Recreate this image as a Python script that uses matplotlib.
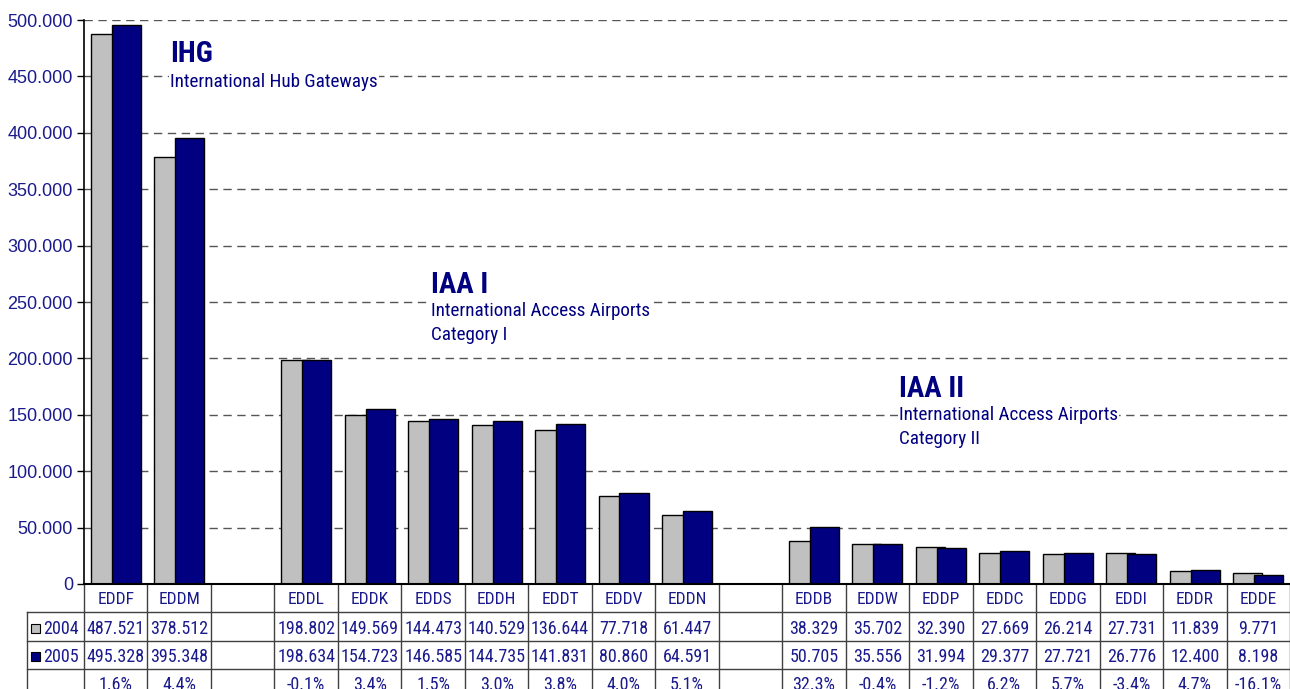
import matplotlib
matplotlib.use('Agg')
import matplotlib.pyplot as plt
from matplotlib.transforms import blended_transform_factory
from matplotlib import font_manager
from matplotlib.font_manager import FontProperties

# Airports (empty strings are the gaps between the groups)
airports = ['EDDF', 'EDDM', '',
            'EDDL', 'EDDK', 'EDDS', 'EDDH', 'EDDT', 'EDDV', 'EDDN', '',
            'EDDB', 'EDDW', 'EDDP', 'EDDC', 'EDDG', 'EDDI', 'EDDR', 'EDDE']
pax_2004 = [487521, 378512, None,
            198802, 149569, 144473, 140529, 136644, 77718, 61447, None,
            38329, 35702, 32390, 27669, 26214, 27731, 11839, 9771]
pax_2005 = [495328, 395348, None,
            198634, 154723, 146585, 144735, 141831, 80860, 64591, None,
            50705, 35556, 31994, 29377, 27721, 26776, 12400, 8198]
years = ['2004', '2005']
y_ticks = list(range(0, 500001, 50000))

group_titles = ['IHG', 'IAA I', 'IAA II']
group_subtitles = ['International Hub Gateways',
                   'International Access Airports\nCategory I',
                   'International Access Airports\nCategory II']


def find_condensed():
    # look for a narrow/condensed sans face on the system
    cond = ('condensed', 'semi-condensed')
    prefs = ['Liberation Sans Narrow', 'Roboto Condensed', 'DejaVu Sans', 'Noto Sans', 'Open Sans']
    best = {}
    for f in font_manager.fontManager.ttflist:
        if f.style != 'normal':
            continue
        if not (str(f.stretch) in cond or 'Narrow' in f.name or 'Condensed' in f.name):
            continue
        try:
            w = int(f.weight)
        except ValueError:
            w = 700 if 'bold' in str(f.weight) else 400
        kind = 'bold' if w == 700 else ('reg' if w == 400 else None)
        if kind is None:
            continue
        rank = next((i for i, p in enumerate(prefs) if f.name.startswith(p)), len(prefs))
        if kind not in best or rank < best[kind][0]:
            best[kind] = (rank, f.fname)
    if 'reg' in best:
        reg = FontProperties(fname=best['reg'][1])
        bold = FontProperties(fname=best['bold'][1]) if 'bold' in best else FontProperties(family='Liberation Sans', weight='bold')
        return reg, bold, 1.0
    return FontProperties(family='Liberation Sans'), FontProperties(family='Liberation Sans', weight='bold'), 0.85


fp_reg, fp_bold, scale = find_condensed()


def fp(base, size):
    p = base.copy()
    p.set_size(size * scale)
    return p


navy_text = '#1a1a8c'
c04 = '#c0c0c0'
c05 = '#000080'

W, H = 1290, 689
fig = plt.figure(figsize=(12.9, 6.89), dpi=100)
ax = fig.add_axes([84 / W, (H - 584) / H, (1290 - 84) / W, (584 - 20) / H])

x = list(range(len(airports)))
bw = 0.457
off = 0.165
for i in x:
    if pax_2004[i] is None:
        continue
    ax.bar(i - off, pax_2004[i], width=bw, color=c04, edgecolor='black', linewidth=1, zorder=3)
    ax.bar(i + off, pax_2005[i], width=bw, color=c05, edgecolor='black', linewidth=1, zorder=4)

ax.set_xlim(-0.5, len(airports) - 0.5)
ax.set_ylim(0, 500000)
ax.set_yticks(y_ticks)
ax.set_yticklabels(['0' if v == 0 else f'{v:,}'.replace(',', '.') for v in y_ticks],
                   fontsize=13, color=navy_text, family='Liberation Sans')
ax.tick_params(axis='y', length=5, width=1, color='black', pad=3)
ax.set_xticks([])
for s in ['top', 'right', 'bottom']:
    ax.spines[s].set_visible(False)
ax.spines['left'].set_linewidth(1.2)
ax.axhline(0, color='black', lw=1.5, zorder=5, clip_on=False)
for v in y_ticks[1:]:
    ax.axhline(v, color='#555555', lw=1, ls=(0, (6, 4)), zorder=1)

# group labels, placed in pixel rows of the picture
tr_px = blended_transform_factory(ax.transData, fig.transFigure)
fy = lambda px: (H - px) / H
label_cols = [0.855, 4.967, 12.34]
title_base = [62, 293, 397]
sub_top = [73, 302, 406]
for gx, tb, st, title, sub in zip(label_cols, title_base, sub_top, group_titles, group_subtitles):
    ax.text(gx, fy(tb), title, fontproperties=fp(fp_bold, 21), color=c05,
            ha='left', va='baseline', zorder=6, transform=tr_px,
            bbox=dict(facecolor='white', edgecolor='none', pad=1))
    ax.text(gx, fy(st), sub, fontproperties=fp(fp_reg, 13.8), color=c05, ha='left', va='top',
            linespacing=1.45, zorder=6, transform=tr_px,
            bbox=dict(facecolor='white', edgecolor='none', pad=1))

# data table below the axis
line_c = '#404040'
rows_y = [584, 612, 641, 669, 697]
for b in range(len(airports) + 1):
    xb = b - 0.5
    ax.plot([xb, xb], [fy(584), fy(H)], transform=tr_px, color=line_c, lw=1, clip_on=False)
for yy in rows_y[1:4]:
    fig.add_artist(plt.Line2D([27 / W, 1], [fy(yy), fy(yy)], color=line_c, lw=1))
fig.add_artist(plt.Line2D([27 / W, 27 / W], [fy(612), 0], color=line_c, lw=1))

yc = [(rows_y[k] + rows_y[k + 1]) / 2 + 2 for k in range(4)]
for i, name in enumerate(airports):
    ax.text(i, fy(yc[0]), name, transform=tr_px, ha='center', va='center',
            fontproperties=fp(fp_reg, 12.5), color=navy_text)
    if pax_2004[i] is None:
        continue
    ax.text(i, fy(yc[1]), f'{pax_2004[i]:,}'.replace(',', '.'), transform=tr_px,
            ha='center', va='center', fontproperties=fp(fp_reg, 13), color=navy_text)
    ax.text(i, fy(yc[2]), f'{pax_2005[i]:,}'.replace(',', '.'), transform=tr_px,
            ha='center', va='center', fontproperties=fp(fp_reg, 13), color=navy_text)
    pct = (pax_2005[i] / pax_2004[i] - 1) * 100
    ax.text(i, fy(yc[3]), f'{pct:.1f}%', transform=tr_px,
            ha='center', va='center', fontproperties=fp(fp_reg, 13), color=navy_text)

# legend keys in the table
for k, (yr, col) in enumerate(zip(years, [c04, c05])):
    yk = yc[k + 1]
    fig.add_artist(plt.Rectangle((31 / W, fy(yk + 4)), 9 / W, 9 / H,
                                 facecolor=col, edgecolor='black', lw=0.8))
    fig.text(43 / W, fy(yk), yr, ha='left', va='center', fontproperties=fp(fp_reg, 13),
             color=navy_text)

fig.savefig('out.png', dpi=100)
